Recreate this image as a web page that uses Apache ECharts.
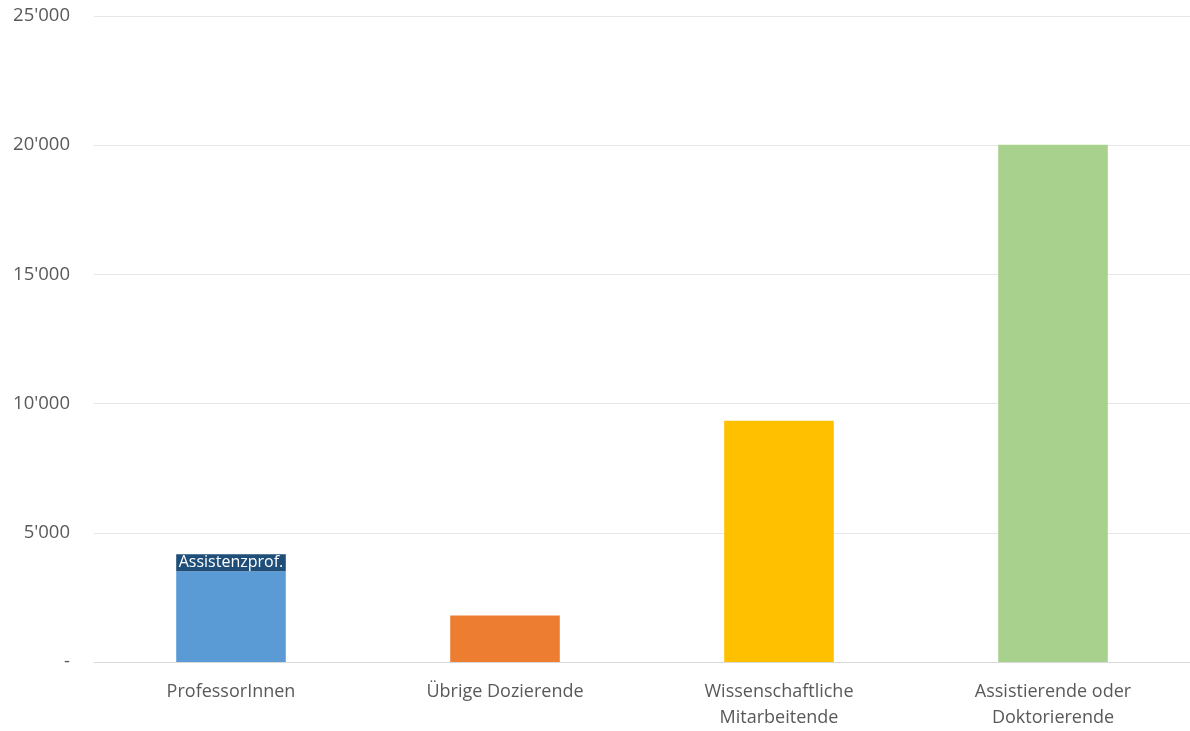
<!DOCTYPE html>
<html>
<head>
<meta charset="utf-8">
<script src="https://cdn.jsdelivr.net/npm/echarts@6/dist/echarts.min.js"></script>
<style>
html,body{margin:0;padding:0;background:#fff;}
#chart{width:1190px;height:731px;}
</style>
</head>
<body>
<div id="chart"></div>
<script>
const categories = ['ProfessorInnen', 'Übrige Dozierende', 'Wissenschaftliche\nMitarbeitende', 'Assistierende oder\nDoktorierende'];
const mainValues = [3510, 1795, 9340, 20020];
const assistenzValues = [660, '-', '-', '-'];
const barColors = ['#5b9bd5', '#ed7d31', '#ffc000', '#a9d18e'];
const yTicks = [0, 5000, 10000, 15000, 20000, 25000];

const chart = echarts.init(document.getElementById('chart'));
const fmt = v => v === 0 ? '-' : String(v).replace(/\B(?=(\d{3})+(?!\d))/g, "'");
chart.setOption({
  animation: false,
  grid: { left: 94, right: -4, top: 16, bottom: 66, containLabel: false },
  xAxis: {
    type: 'category',
    data: categories,
    axisLine: { lineStyle: { color: '#d9d9d9', width: 1 } },
    axisTick: { show: false },
    axisLabel: { color: '#595959', fontSize: 18, fontFamily: 'Open Sans', lineHeight: 26, margin: 17, interval: 0 }
  },
  yAxis: {
    type: 'value',
    min: yTicks[0], max: yTicks[yTicks.length - 1], interval: 5000,
    axisLine: { show: false },
    axisTick: { show: false },
    splitLine: { lineStyle: { color: '#e6e6e6', width: 1 } },
    axisLabel: { color: '#595959', fontSize: 18.5, fontFamily: 'Open Sans', margin: 24, formatter: fmt }
  },
  series: [
    {
      name: 'Haupt',
      type: 'bar',
      stack: 'total',
      barWidth: '40%',
      data: mainValues.map((v, i) => ({ value: v, itemStyle: { color: barColors[i] } }))
    },
    {
      name: 'Assistenzprof.',
      type: 'bar',
      stack: 'total',
      barWidth: '40%',
      itemStyle: { color: '#1f4e79' },
      label: {
        show: true,
        position: 'inside',
        formatter: 'Assistenzprof.',
        color: '#ffffff',
        fontSize: 16,
        fontFamily: 'Open Sans'
      },
      data: assistenzValues
    }
  ]
});
</script>
</body>
</html>
